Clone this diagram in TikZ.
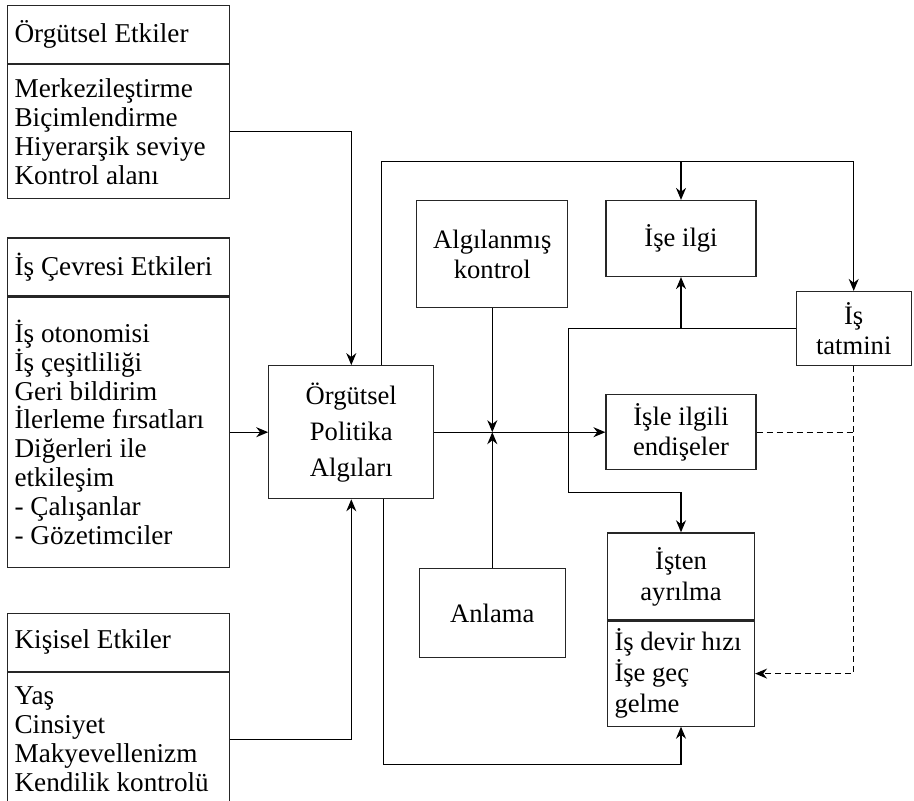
\documentclass[tikz,border=0pt]{standalone}
\usepackage{fontspec}
\setmainfont{Liberation Serif}
\usetikzlibrary{arrows.meta,positioning}

\begin{document}
\begin{tikzpicture}[
>={Stealth[length=6pt,width=5pt]},
line width=0.6pt,
head/.style={rectangle, draw=black!85, minimum width=111pt, minimum height=29pt, inner xsep=3.5pt, inner ysep=1.5pt, text width=104pt, align=flush left, font=\fontsize{13.6}{14.4}\selectfont},
list/.style={head},
box/.style={rectangle, draw=black!85, align=center, font=\fontsize{13.3}{15}\selectfont},
]
\useasboundingbox (0,0) rectangle (457pt,-400.5pt);
%Nodes
\node[head, anchor=north west] (orgh) at (3.5pt,-2.5pt) {Örgütsel Etkiler};
\node[list, minimum height=67pt]   (orgb) [below=0pt of orgh] {Merkezileştirme\\Biçimlendirme\\Hiyerarşik seviye\\Kontrol alanı};
\node[head]                        (cevh) [below=19pt of orgb] {İş Çevresi Etkileri};
\node[list, minimum height=135pt]  (cevb) [below=0pt of cevh] {İş otonomisi\\İş çeşitliliği\\Geri bildirim\\İlerleme fırsatları\\Diğerleri ile\\etkileşim\\- Çalışanlar\\- Gözetimciler};
\node[head]                        (kish) [below=22.5pt of cevb] {Kişisel Etkiler};
\node[list, minimum height=66.5pt] (kisb) [below=0pt of kish] {Yaş\\Cinsiyet\\Makyevellenizm\\Kendilik kontrolü};

\node[box, minimum width=82.5pt, minimum height=66.5pt, font=\fontsize{13.3}{18}\selectfont] (algi) [right=19pt of cevb] {Örgütsel\\Politika\\Algıları};
\node[box, minimum width=75pt, minimum height=37.5pt]   (endise)  [right=85.5pt of algi] {İşle ilgili\\endişeler};
\node[box, minimum width=75pt, minimum height=38pt]     (ilgi)    [above=58.5pt of endise] {İşe ilgi};
\node[box, minimum width=57.5pt, minimum height=37pt]   (tatmin)  [above right=14pt and 19.5pt of endise] {İş\\tatmini};
\node[box, minimum width=75.5pt, minimum height=53.5pt] (kontrol) [left=18.5pt of ilgi.north west, anchor=north east] {Algılanmış\\kontrol};
\node[box, minimum width=73pt, minimum height=44.5pt]   (anlama)  [below=130pt of kontrol] {Anlama};
\node[box, minimum width=73.5pt, minimum height=43.5pt, font=\fontsize{13.3}{15.5}\selectfont] (ayrh) [below=31pt of endise] {İşten\\ayrılma};
\node[box, minimum width=73.5pt, minimum height=52.5pt, inner xsep=3.5pt, inner ysep=1.5pt, text width=66.5pt, align=flush left, font=\fontsize{13.3}{15.5}\selectfont] (ayrb) [below=0pt of ayrh] {İş devir hızı\\İşe geç\\gelme};

%Lines
\draw[->] (orgb.east) -| (algi.north);
\draw[->] (cevb.east) -- (algi.west);
\draw[->] (kisb.east) -| (algi.south);
\draw[->] (algi.east) -- (endise.west);
\coordinate (kesis) at (kontrol.south |- algi.east);
\draw[->] (kontrol.south) -- (kesis);
\draw[->] (anlama.north) -- (kesis);
\coordinate (ust) at ([yshift=19pt]ilgi.north);
\draw[->] ([xshift=15pt]algi.north) |- (ust -| tatmin.north) -- (tatmin.north);
\draw[->] (ust) -- (ilgi.north);
\draw[->] ([xshift=16pt]algi.south) |- ([yshift=-19pt]ayrb.south) -- (ayrb.south);
\draw[->] (tatmin.west) -- (tatmin.west -| kontrol.east) |- ([yshift=20pt]ayrh.north) -- (ayrh.north);
\draw[->] (tatmin.west -| ilgi.south) -- (ilgi.south);
\draw[->, densely dashed] (tatmin.south) |- (ayrb.east);
\draw[densely dashed] (endise.east) -- (endise.east -| tatmin.south);
\end{tikzpicture}
\end{document}
